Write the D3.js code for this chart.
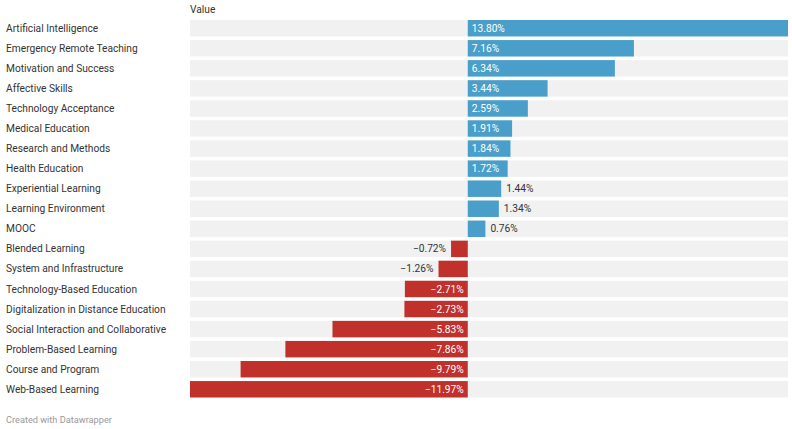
<!DOCTYPE html>
<html><head><meta charset="utf-8">
<script src="https://cdn.jsdelivr.net/npm/d3@7"></script>
<style>
html,body{margin:0;padding:0;background:#fff;}
svg{display:block;font-family:Roboto,"Noto Sans",sans-serif;}
</style></head>
<body>
<svg id="c" width="792" height="429"></svg>
<script>
const categories = ["Artificial Intelligence","Emergency Remote Teaching","Motivation and Success","Affective Skills","Technology Acceptance","Medical Education","Research and Methods","Health Education","Experiential Learning","Learning Environment","MOOC","Blended Learning","System and Infrastructure","Technology-Based Education","Digitalization in Distance Education","Social Interaction and Collaborative","Problem-Based Learning","Course and Program","Web-Based Learning"];
const values = [13.80,7.16,6.34,3.44,2.59,1.91,1.84,1.72,1.44,1.34,0.76,-0.72,-1.26,-2.71,-2.73,-5.83,-7.86,-9.79,-11.97];
const headerLabel = "Value";
const footerText = "Created with Datawrapper";

const data = categories.map((c,i)=>({cat:c, v:values[i]}));
const svg = d3.select("#c");
const x = d3.scaleLinear().domain([d3.min(values), d3.max(values)]).range([190, 788]);
const y = d3.scaleBand().domain(categories).range([20, 397.5]).paddingInner(0.18).paddingOuter(0);
const fmt = d3.format(".2f");
const pos = "#4a9fca", neg = "#c0312b";
const fs = 10.2;

svg.append("text").attr("x",190).attr("y",13).attr("font-size",fs).attr("fill","#333").text(headerLabel);

const row = svg.selectAll("g.row").data(data).join("g").attr("class","row");
row.append("rect").attr("x",x.range()[0]).attr("width",x.range()[1]-x.range()[0])
  .attr("y",d=>y(d.cat)).attr("height",y.bandwidth()).attr("fill","#f1f1f1");
row.append("rect").attr("x",d=>x(Math.min(0,d.v))).attr("width",d=>Math.abs(x(d.v)-x(0)))
  .attr("y",d=>y(d.cat)).attr("height",y.bandwidth()).attr("fill",d=>d.v>=0?pos:neg);
row.append("text").attr("x",6).attr("y",d=>y(d.cat)+y.bandwidth()/2).attr("dy","0.35em")
  .attr("font-size",fs).attr("fill","#333").text(d=>d.cat);
row.append("text").attr("class","val").attr("y",d=>y(d.cat)+y.bandwidth()/2).attr("dy","0.35em")
  .attr("font-size",fs).text(d=>fmt(d.v)+"%")
  .each(function(d){
    const t=d3.select(this);
    const w=this.getComputedTextLength();
    const bw=Math.abs(x(d.v)-x(0));
    const inside = bw >= w+8;
    if(d.v>=0){
      if(inside) t.attr("x",x(0)+4).attr("text-anchor","start").attr("fill","#fff");
      else t.attr("x",x(d.v)+5).attr("text-anchor","start").attr("fill","#333");
    } else {
      if(inside) t.attr("x",x(0)-4).attr("text-anchor","end").attr("fill","#fff");
      else t.attr("x",x(d.v)-5).attr("text-anchor","end").attr("fill","#333");
    }
  });

svg.append("text").attr("x",6).attr("y",423).attr("font-size",9.2).attr("fill","#999").text(footerText);
</script>
</body></html>
